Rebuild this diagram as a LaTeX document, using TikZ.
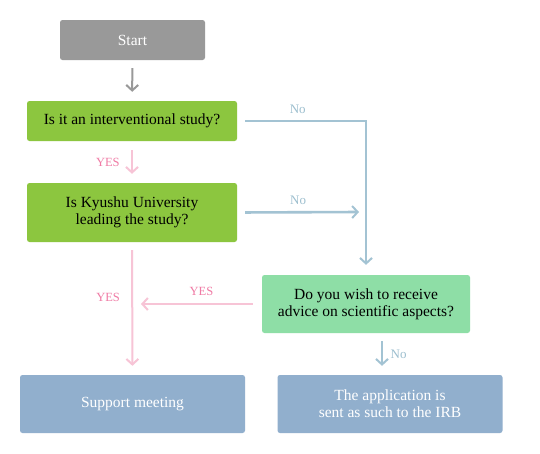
\documentclass[tikz,border=0pt]{standalone}
\usepackage{fontspec}
\setmainfont{Liberation Serif}
\usepackage{xcolor}
\usetikzlibrary{calc,arrows.meta}
\definecolor{bg}{HTML}{FFFFFF}
\definecolor{startgray}{HTML}{999999}
\definecolor{askgreen}{HTML}{8CC63F}
\definecolor{advgreen}{HTML}{8EDEA6}
\definecolor{endblue}{HTML}{91AFCD}
\definecolor{noline}{HTML}{A3C3D3}
\definecolor{notext}{HTML}{9DBFCF}
\definecolor{yesline}{HTML}{F7C4D6}
\definecolor{yestext}{HTML}{F07BA5}
\tikzset{
  box/.style={rounded corners=2.5pt, inner sep=2pt, align=center, font=\fontsize{15.5}{17}\selectfont},
  startbox/.style={box, fill=startgray, text=white, minimum width=145pt, minimum height=40pt},
  askbox/.style={box, fill=askgreen, text=black, minimum width=210pt},
  advbox/.style={box, fill=advgreen, text=black, minimum width=208pt, minimum height=58pt},
  endbox/.style={box, fill=endblue, text=white, minimum width=225pt, minimum height=58pt},
  tip/.style={-{Straight Barb[length=5.5pt,width=12pt,line width=2pt]}},
  grayarr/.style={tip, draw=startgray, line width=2pt},
  noarr/.style={tip, draw=noline, line width=2.6pt},
  yesarr/.style={tip, draw=yesline, line width=2pt},
  nolab/.style={text=notext, font=\fontsize{13}{14}\selectfont},
  yeslab/.style={text=yestext, font=\fontsize{12.5}{14}\selectfont},
}
\begin{document}
\begin{tikzpicture}[x=1pt,y=-1pt]
  \useasboundingbox[fill=bg] (0,0) rectangle (540,453);

  % boxes
  \node[startbox] (start) at (132.5,40) {Start};
  \node[askbox, minimum height=40pt] (interv) at (132,121) {Is it an interventional study?};
  \node[askbox, minimum height=59pt] (kyushu) at (132,212.5) {Is Kyushu University\\leading the study?};
  \node[advbox] (advice) at (366,304) {Do you wish to receive\\advice on scientific aspects?};
  \node[endbox] (support) at (132.5,404) {Support meeting};
  \node[endbox] (irb) at (390,404) {The application is\\sent as such to the IRB};
  \coordinate (nohead) at (359,212);
  \coordinate (yeshead) at (141,304);

  % connectors
  \draw[grayarr, shorten <=8pt, shorten >=9pt] (start) -- (interv);
  \draw[yesarr, shorten <=9pt, shorten >=9pt] (interv) -- (kyushu)
    node[yeslab, midway, left=8pt] {YES};
  \draw[noarr, shorten <=8pt, shorten >=10pt] (interv.east) -| (advice.north)
    node[nolab, pos=0.235, above=3pt] {No};
  \draw[noarr, shorten <=8pt] (kyushu.east) -- (nohead)
    node[nolab, midway, above=3pt] {No};
  \draw[yesarr, shorten <=8pt, shorten >=9pt] (kyushu) -- (support)
    node[yeslab, pos=0.42, left=8pt] {YES};
  \draw[yesarr, shorten <=9pt] (advice.west) -- (yeshead)
    node[yeslab, pos=0.5, above=4pt] {YES};
  \draw[noarr, shorten <=8pt, shorten >=9pt] ([xshift=16pt]advice.south) -- ([xshift=-8pt]irb.north)
    node[nolab, midway, right=4pt] {No};
\end{tikzpicture}
\end{document}
